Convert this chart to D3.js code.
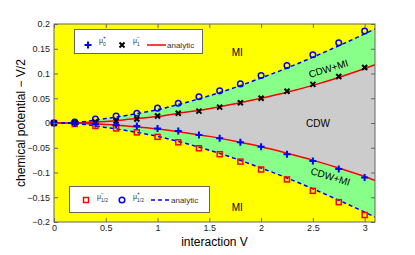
<!DOCTYPE html>
<html>
<head>
<meta charset="utf-8">
<script src="https://cdn.jsdelivr.net/npm/d3@7"></script>
<style>
body { margin: 0; background: #fff; }
text { font-family: "Liberation Sans", Arial, sans-serif; }
</style>
</head>
<body>
<div id="chart"></div>
<script>
// numerical points
var vPts = [0, 0.2, 0.4, 0.6, 0.8, 1.0, 1.2, 1.4, 1.6, 1.8, 2.0, 2.25, 2.5, 2.75, 3.0];
var mu0plus = [0, -0.001, -0.002, -0.004, -0.006, -0.011, -0.016, -0.024, -0.031, -0.039, -0.048, -0.063, -0.077, -0.093, -0.110];
var mu1minus = [0, 0.001, 0.002, 0.004, 0.008, 0.014, 0.0196, 0.024, 0.032, 0.041, 0.050, 0.064, 0.078, 0.094, 0.112];
var muHalfMinus = [0, -0.002, -0.006, -0.011, -0.019, -0.028, -0.039, -0.051, -0.063, -0.078, -0.094, -0.114, -0.137, -0.160, -0.186];
var muHalfPlus = [0, 0.002, 0.008, 0.014, 0.0196, 0.030, 0.040, 0.053, 0.065, 0.079, 0.096, 0.116, 0.138, 0.162, 0.186];

// analytic curves
var vLine = [0, 0.25, 0.5, 0.75, 1.0, 1.25, 1.5, 1.75, 2.0, 2.25, 2.5, 2.75, 3.0, 3.1];
var redUpper = [0, 0.0005, 0.003, 0.008, 0.013, 0.021, 0.029, 0.039, 0.050, 0.062, 0.076, 0.092, 0.110, 0.118];
var redLower = [0, -0.0005, -0.003, -0.007, -0.012, -0.019, -0.027, -0.037, -0.048, -0.061, -0.075, -0.091, -0.108, -0.116];
var blueUpper = [0, 0.002, 0.009, 0.017, 0.027, 0.040, 0.055, 0.072, 0.091, 0.111, 0.133, 0.156, 0.180, 0.190];
var blueLower = [0, -0.002, -0.009, -0.017, -0.027, -0.040, -0.055, -0.072, -0.091, -0.111, -0.133, -0.156, -0.180, -0.190];

var xTicks = [0, 0.5, 1, 1.5, 2, 2.5, 3];
var yTicks = [-0.2, -0.15, -0.1, -0.05, 0, 0.05, 0.1, 0.15, 0.2];

var svgWidth = 415;
var svgHeight = 255;
var margin = {top: 24, right: 40, bottom: 33, left: 54};
var width = svgWidth - margin.left - margin.right;
var height = svgHeight - margin.top - margin.bottom;

var svg = d3.select("#chart").append("svg")
    .attr("width", svgWidth)
    .attr("height", svgHeight);

var g = svg.append("g")
    .attr("transform", `translate(${margin.left}, ${margin.top})`);

var x = d3.scaleLinear().domain([0, 3.1]).range([0, width]);
var y = d3.scaleLinear().domain([-0.2, 0.2]).range([height, 0]);

var defs = svg.append("defs");
defs.append("clipPath").attr("id", "clip")
    .append("rect").attr("width", width).attr("height", height);

var plot = g.append("g").attr("clip-path", "url(#clip)");

// MI background
plot.append("rect").attr("width", width).attr("height", height).attr("fill", "#ffff00");

var lineData = vLine.map((v, i) => ({v: v, ru: redUpper[i], rl: redLower[i], bu: blueUpper[i], bl: blueLower[i]}));

plot.append("path").datum(lineData)
    .attr("fill", "#88ff88")
    .attr("d", d3.area().x(d => x(d.v)).y0(d => y(d.bl)).y1(d => y(d.bu)).curve(d3.curveMonotoneX));

plot.append("path").datum(lineData)
    .attr("fill", "#cccccc")
    .attr("d", d3.area().x(d => x(d.v)).y0(d => y(d.rl)).y1(d => y(d.ru)).curve(d3.curveMonotoneX));

function drawLine(key, color, dash) {
    plot.append("path").datum(lineData)
        .attr("fill", "none")
        .attr("stroke", color)
        .attr("stroke-width", 1.5)
        .attr("stroke-dasharray", dash)
        .attr("d", d3.line().x(d => x(d.v)).y(d => y(d[key])).curve(d3.curveMonotoneX));
}
drawLine("ru", "#ff0000", null);
drawLine("rl", "#ff0000", null);
drawLine("bu", "#0000ff", "4,3");
drawLine("bl", "#0000ff", "4,3");

// markers
function plus(sel, c) {
    sel.append("path").attr("d", "M-3.5,0H3.5M0,-3.5V3.5").attr("stroke", c).attr("stroke-width", 2).attr("fill", "none");
}
function cross(sel, c) {
    sel.append("path").attr("d", "M-2.5,-2.5L2.5,2.5M-2.5,2.5L2.5,-2.5").attr("stroke", c).attr("stroke-width", 2).attr("fill", "none");
}
function square(sel, c) {
    sel.append("rect").attr("x", -2.5).attr("y", -2.5).attr("width", 5).attr("height", 5)
        .attr("stroke", c).attr("stroke-width", 1.5).attr("fill", "none");
}
function circle(sel, c) {
    sel.append("circle").attr("r", 2.8).attr("stroke", c).attr("stroke-width", 1.5).attr("fill", "none");
}

function drawPoints(vals, fn, color) {
    var grp = g.append("g");
    grp.selectAll("g").data(vPts).enter().append("g")
        .attr("transform", (d, i) => `translate(${x(d)},${y(vals[i])})`)
        .each(function() { fn(d3.select(this), color); });
}
drawPoints(muHalfMinus, square, "#ff0000");
drawPoints(muHalfPlus, circle, "#0000ff");
drawPoints(mu1minus, cross, "#000000");
drawPoints(mu0plus, plus, "#0000ff");

// region labels
function label(txt, px, py, rot) {
    g.append("text")
        .attr("transform", `translate(${px},${py}) rotate(${rot})`)
        .attr("text-anchor", "middle")
        .style("font-size", "10px")
        .attr("fill", "#000")
        .text(txt);
}
label("MI", x(1.77), y(0.135), 0);
label("MI", x(1.77), y(-0.177), 0);
label("CDW", x(2.55), y(-0.008), 0);
label("CDW+MI", x(2.66), y(0.103), -17);
label("CDW+MI", x(2.66), y(-0.115), 17);

// axes
var axColor = "#666";
var bottomAxis = d3.axisBottom(x).tickValues(xTicks).tickSize(-4).tickPadding(3).tickFormat(d3.format("~g"));
var leftAxis = d3.axisLeft(y).tickValues(yTicks).tickSize(-4).tickPadding(4).tickFormat(d => d === 0 ? "0" : d3.format("~g")(d).replace("-", "\u2212"));

var xa = g.append("g").attr("transform", `translate(0, ${height})`).call(bottomAxis);
var ya = g.append("g").call(leftAxis);
var xt = g.append("g").call(d3.axisTop(x).tickValues(xTicks).tickSize(-4).tickFormat(""));
var yr = g.append("g").attr("transform", `translate(${width},0)`).call(d3.axisRight(y).tickValues(yTicks).tickSize(-4).tickFormat(""));

[xa, ya, xt, yr].forEach(function(a) {
    a.select(".domain").remove();
    a.selectAll("line").attr("stroke", axColor);
    a.selectAll("text").style("font-size", "9px").attr("fill", "#222").style("font-family", "Liberation Sans, Arial, sans-serif");
});

g.append("rect").attr("width", width).attr("height", height)
    .attr("fill", "none").attr("stroke", axColor).attr("stroke-width", 1);

// axis titles
svg.append("text")
    .attr("x", margin.left + x(1.55))
    .attr("y", 246)
    .attr("text-anchor", "middle")
    .style("font-size", "12px")
    .text("interaction V");

svg.append("text")
    .attr("transform", `translate(25, ${margin.top + y(0)}) rotate(-90)`)
    .attr("text-anchor", "middle")
    .style("font-size", "12px")
    .text("chemical potential \u2212 V/2");

// legends
function muText(sel, px, py, sup, sub) {
    sel.append("text").attr("x", px).attr("y", py).style("font-size", "7px").attr("fill", "#333").text("\u03bc");
    sel.append("text").attr("x", px + 4).attr("y", py - 4).style("font-size", "5px").attr("fill", "#333").text(sup);
    sel.append("text").attr("x", px + 4).attr("y", py + 2.5).style("font-size", "5px").attr("fill", "#333").text(sub);
}

var leg1 = svg.append("g");
leg1.append("rect").attr("x", 74.5).attr("y", 29.5).attr("width", 128).attr("height", 24)
    .attr("fill", "#fff").attr("stroke", axColor);
var m1 = leg1.append("g").attr("transform", "translate(88,45)"); plus(m1, "#0000ff");
muText(leg1, 99, 43, "+", "0");
var m2 = leg1.append("g").attr("transform", "translate(122,45)"); cross(m2, "#000");
muText(leg1, 133, 43, "\u2212", "1");
leg1.append("line").attr("x1", 147).attr("x2", 166).attr("y1", 45).attr("y2", 45).attr("stroke", "#ff0000").attr("stroke-width", 1.5);
leg1.append("text").attr("x", 167).attr("y", 48).style("font-size", "8px").attr("fill", "#333").text("analytic");

var leg2 = svg.append("g");
leg2.append("rect").attr("x", 69.5).attr("y", 186.5).attr("width", 140).attr("height", 26)
    .attr("fill", "#fff").attr("stroke", axColor);
var m3 = leg2.append("g").attr("transform", "translate(86,200)"); square(m3, "#ff0000");
muText(leg2, 97, 199, "\u2212", "1/2");
var m4 = leg2.append("g").attr("transform", "translate(122,200)"); circle(m4, "#0000ff");
muText(leg2, 133, 199, "+", "1/2");
leg2.append("line").attr("x1", 151).attr("x2", 170).attr("y1", 200).attr("y2", 200).attr("stroke", "#0000ff").attr("stroke-width", 1.5).attr("stroke-dasharray", "4,3");
leg2.append("text").attr("x", 171).attr("y", 203).style("font-size", "8px").attr("fill", "#333").text("analytic");
</script>
</body>
</html>
